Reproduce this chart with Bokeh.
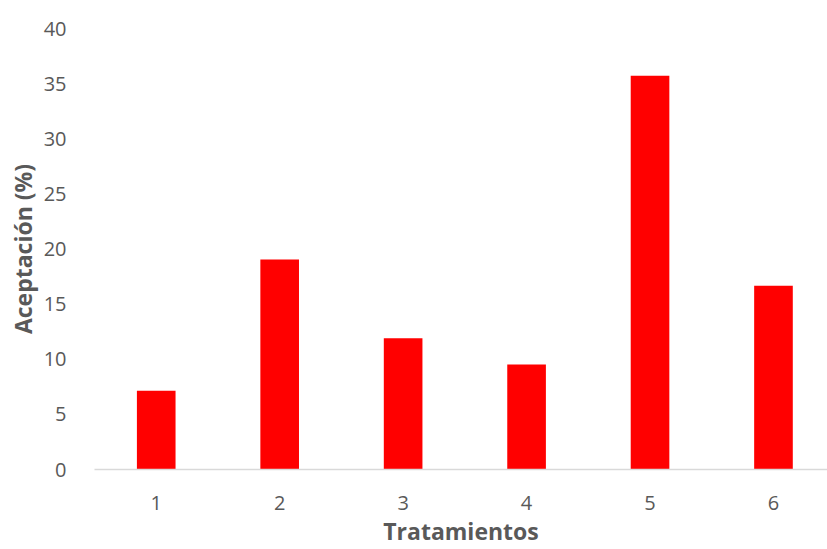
from bokeh.plotting import figure
from bokeh.models import Range1d, FixedTicker, ColumnDataSource
from bokeh.embed import file_html
from bokeh.resources import INLINE

# Acceptance per treatment (%)
tratamientos = [1, 2, 3, 4, 5, 6]
aceptacion = [7.14, 19.05, 11.90, 9.52, 35.71, 16.67]
y_ticks = [0, 5, 10, 15, 20, 25, 30, 35, 40]

FONT = "Open Sans"
GREY = "#595959"

src = ColumnDataSource(dict(x=tratamientos, y=aceptacion))

p = figure(width=827, height=549, output_backend="svg", toolbar_location=None,
           x_range=Range1d(0.5, 6.4376), y_range=Range1d(0, 40),
           min_border_left=94, min_border_right=0, min_border_top=28,
           min_border_bottom=80)
p.outline_line_color = None
p.background_fill_color = "white"
p.border_fill_color = "white"

p.vbar(x="x", top="y", width=0.313, source=src, fill_color="#ff0000",
       line_color=None)

p.xgrid.visible = False
p.ygrid.visible = False

p.xaxis.ticker = FixedTicker(ticks=tratamientos)
p.yaxis.ticker = FixedTicker(ticks=y_ticks)

for ax in (p.xaxis[0], p.yaxis[0]):
    ax.major_tick_line_color = None
    ax.minor_tick_line_color = None
    ax.major_label_text_font = FONT
    ax.major_label_text_font_size = "20px"
    ax.major_label_text_color = GREY
    ax.axis_label_text_font = FONT
    ax.axis_label_text_font_size = "23px"
    ax.axis_label_text_font_style = "bold"
    ax.axis_label_text_color = GREY

p.xaxis.axis_line_color = "#d9d9d9"
p.xaxis.axis_line_width = 1.5
p.yaxis.axis_line_color = None

p.xaxis.axis_label = "Tratamientos"
p.yaxis.axis_label = "Aceptación (%)"
p.xaxis.major_label_standoff = 20
p.xaxis.axis_label_standoff = 2
p.yaxis.major_label_standoff = 22
p.yaxis.axis_label_standoff = 2

open("out.html", "w").write(file_html(p, INLINE))
